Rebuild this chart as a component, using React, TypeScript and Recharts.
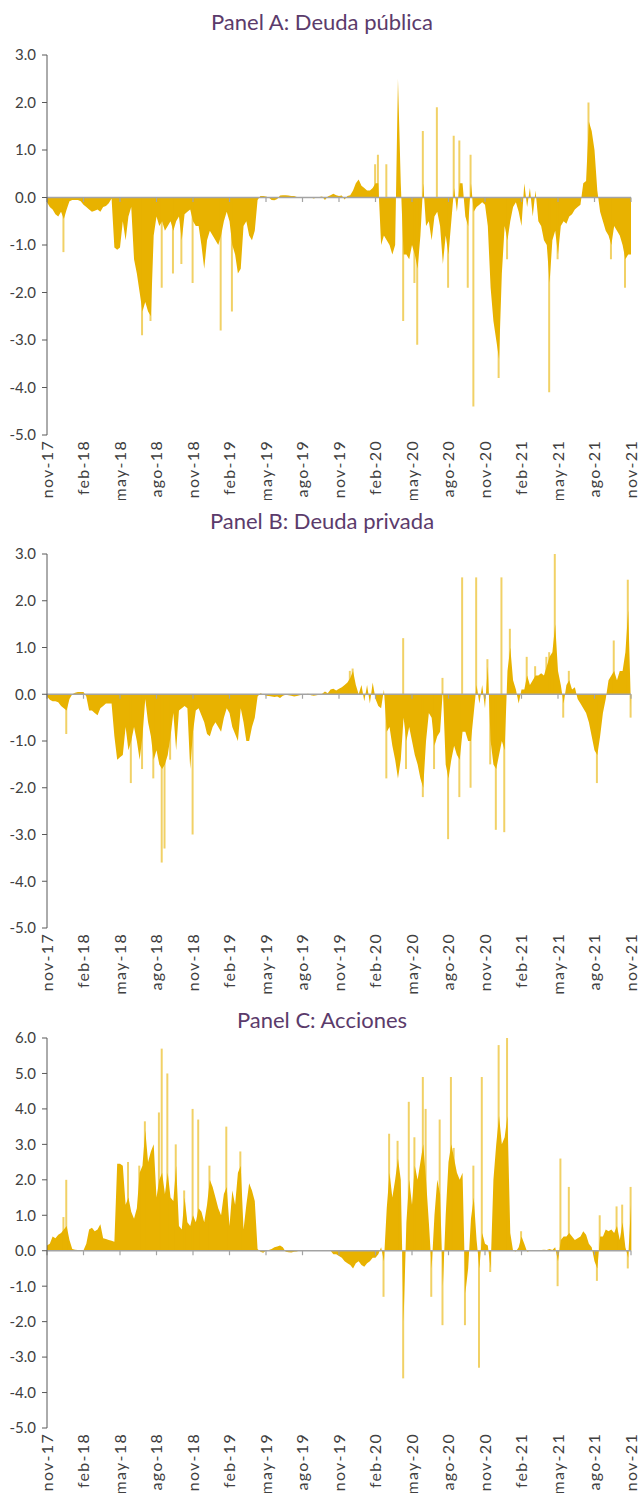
import React from 'react';
import { ComposedChart, Area, Bar, XAxis, YAxis, ReferenceLine } from 'recharts';

const tickLabels = [
  'nov-17', 'feb-18', 'may-18', 'ago-18', 'nov-18', 'feb-19', 'may-19', 'ago-19',
  'nov-19', 'feb-20', 'may-20', 'ago-20', 'nov-20', 'feb-21', 'may-21', 'ago-21', 'nov-21',
];
const WEEKS_PER_TICK = 13;

// Weekly body values, nov-17 .. nov-21 (209 weeks)
const deudaPublica = [
  -0.1, -0.2, -0.25, -0.35, -0.4, -0.3, -0.45, -0.25, -0.08, -0.05,
  -0.05, -0.05, -0.08, -0.15, -0.2, -0.25, -0.3, -0.28, -0.25, -0.3,
  -0.2, -0.18, -0.12, -0.02, -1.05, -1.1, -1.05, -0.5, -0.9, -0.4,
  -0.2, -1.3, -1.6, -2.0, -2.4, -2.2, -2.4, -2.5, -0.8, -0.4,
  -0.6, -0.5, -0.7, -0.6, -0.5, -0.7, -0.5, -0.4, -0.9, -0.35,
  -0.3, -0.25, -0.5, -0.6, -0.6, -1.0, -1.5, -0.9, -0.7, -0.8,
  -0.9, -1.0, -0.8, -0.5, -0.3, -0.5, -1.0, -1.2, -1.6, -1.5,
  -0.6, -0.5, -0.8, -0.9, -0.7, -0.05, 0.03, 0.03, 0.02, 0,
  -0.05, -0.06, -0.03, 0.04, 0.05, 0.05, 0.04, 0.03, 0.03, 0.01,
  0.01, 0, 0.01, 0.01, 0, -0.02, 0, 0.01, 0.02, -0.05,
  0.02, 0.05, 0.08, 0.05, 0.03, 0.04, -0.04, 0.03, 0.05, 0.15,
  0.3, 0.38, 0.25, 0.2, 0.15, 0.15, 0.2, 0.3, 0.3, -1.0,
  -0.8, -0.9, -1.0, -1.2, -1.0, 2.5, 0.3, -1.2, -1.2, -1.3,
  -1.0, -1.2, -1.5, -0.8, 0.3, -0.6, -0.5, -0.9, -0.4, -0.3,
  -0.6, -1.4, -0.8, -1.2, -0.5, 0.2, -0.3, 0.3, 0.3, -0.4,
  -0.6, 0.3, -0.3, -0.2, -0.15, -0.1, -0.15, -0.6, -1.9, -2.6,
  -3.0, -3.4, -1.6, -0.6, -0.9, -0.5, -0.2, -0.1, -0.3, -0.6,
  0.3, -0.2, 0.2, -0.4, 0.15, -0.5, -0.6, -0.9, -1.0, -1.8,
  -0.9, -0.7, -1.2, -0.6, -0.5, -0.55, -0.4, -0.35, -0.25, -0.2,
  -0.15, 0.3, 0.35, 1.6, 1.4, 1.0, 0.15, -0.3, -0.5, -0.7,
  -0.8, -1.0, -0.6, -0.7, -0.8, -1.0, -1.3, -1.2, -1.2,
];
// Thin one-day spikes: [week, value]
const deudaPublicaSpikes: [number, number][] = [
  [6, -1.15], [34, -2.9], [37, -2.6], [41, -1.9], [45, -1.6], [48, -1.4], [52, -1.8],
  [62, -2.8], [66, -2.4], [117, 0.7], [118, 0.9], [121, 0.7], [127, -2.6], [131, -1.8],
  [132, -3.1], [134, 1.4], [139, 1.9], [143, -1.9], [145, 1.3], [147, 1.2], [150, -1.9],
  [151, 0.9], [152, -4.4], [161, -3.8], [164, -1.3], [179, -4.1], [182, -1.3], [193, 2.0],
  [201, -1.3], [206, -1.9],
];

const deudaPrivada = [
  -0.05, -0.12, -0.15, -0.15, -0.17, -0.25, -0.3, -0.35, -0.1, 0,
  0.03, 0.05, 0.05, 0.05, -0.05, -0.35, -0.35, -0.4, -0.45, -0.3,
  -0.25, -0.2, -0.2, -0.2, -0.9, -1.4, -1.35, -1.3, -0.7, -1.2,
  -1.0, -0.7, -1.0, -1.4, -0.9, -0.1, -0.6, -0.9, -1.4, -1.2,
  -1.5, -1.6, -1.5, -1.3, -0.9, -0.4, -1.2, -0.35, -0.3, -0.25,
  -0.3, -1.6, -0.8, -0.35, -0.3, -0.45, -0.6, -0.85, -0.9, -0.7,
  -0.6, -0.7, -0.8, -0.5, -0.3, -0.4, -0.7, -0.85, -1.0, -0.3,
  -0.6, -1.0, -1.0, -0.7, -0.5, -0.05, 0.02, 0, -0.03, -0.04,
  -0.05, -0.06, -0.05, -0.08, -0.03, -0.01, -0.02, -0.03, -0.05, -0.04,
  -0.02, -0.01, 0, 0.01, -0.02, -0.03, -0.02, -0.01, 0.01, 0.06,
  0.02, 0.1, 0.12, 0.08, 0.12, 0.15, 0.2, 0.25, 0.35, 0.5,
  0.2, 0, 0.2, -0.15, 0.2, -0.2, 0.25, -0.1, -0.25, -0.3,
  0.1, -0.8, -0.7, -1.1, -1.4, -1.8, -1.4, -0.5, -1.0, -0.7,
  -1.0, -1.3, -1.5, -1.8, -2.0, -1.0, -0.4, -0.5, -1.1, -0.9,
  -0.8, 0.1, -1.5, -1.8, -1.4, -1.1, -1.3, -1.4, -0.8, -0.8,
  -1.0, -1.0, -0.4, 0.2, -0.2, 0.2, -0.3, 0.6, -1.0, -1.5,
  -1.6, -1.3, -1.0, -1.2, 0.5, 1.0, 0.3, 0.1, -0.2, 0.1,
  0.1, 0.4, 0.2, 0.3, 0.4, 0.4, 0.45, 0.4, 0.6, 0.8,
  0.9, 1.5, 0.5, 0.2, -0.2, 0.2, 0.3, 0.1, 0.15, -0.1,
  -0.2, -0.3, -0.4, -0.6, -0.9, -1.2, -1.3, -0.9, -0.4, -0.1,
  0.3, 0.4, 0.5, 0.3, 0.5, 0.5, 0.9, 1.8, -0.3,
];
const deudaPrivadaSpikes: [number, number][] = [
  [7, -0.85], [30, -1.9], [34, -1.6], [38, -1.8], [41, -3.6], [42, -3.3], [44, -1.4],
  [52, -3.0], [108, 0.5], [109, 0.55], [121, -1.8], [127, 1.2], [128, -1.6], [134, -2.2],
  [138, -1.6], [141, 0.35], [143, -3.1], [147, -2.2], [148, 2.5], [151, -2.0], [153, 2.5],
  [157, 0.75], [158, -1.5], [160, -2.9], [162, 2.5], [163, -2.95], [165, 1.4], [171, 0.8],
  [174, 0.6], [178, 0.8], [179, 0.9], [181, 3.0], [184, -0.5], [186, 0.5], [196, -1.9],
  [202, 1.15], [207, 2.45], [208, -0.5],
];

const acciones = [
  0.15, 0.2, 0.4, 0.35, 0.45, 0.5, 0.6, 0.7, 0.3, 0.05,
  0.03, 0.02, 0.01, 0.01, 0.2, 0.6, 0.65, 0.55, 0.6, 0.75,
  0.35, 0.33, 0.3, 0.28, 0.25, 2.45, 2.45, 2.4, 1.3, 1.5,
  1.1, 0.9, 1.2, 2.2, 2.4, 3.4, 2.5, 2.8, 3.0, 1.5,
  2.0, 2.2, 1.6, 2.2, 1.5, 1.4, 2.4, 0.7, 0.6, 1.5,
  0.8, 0.7, 1.0, 0.8, 1.2, 1.1, 0.8, 1.3, 2.0, 1.8,
  1.5, 1.2, 1.0, 1.6, 1.8, 0.7, 1.7, 1.3, 2.2, 2.4,
  0.6, 1.3, 1.9, 1.7, 1.4, 0.05, -0.03, -0.06, 0, 0.02,
  0.05, 0.1, 0.12, 0.15, 0.1, -0.03, -0.04, -0.05, -0.03, -0.02,
  0.01, 0.02, 0.02, 0.01, 0.02, 0.01, 0, 0.02, 0.01, 0,
  0, 0, -0.1, -0.1, -0.15, -0.2, -0.3, -0.35, -0.4, -0.5,
  -0.35, -0.3, -0.4, -0.45, -0.35, -0.3, -0.2, -0.2, -0.1, 0.1,
  -0.3, 1.2, 2.2, 1.5, 2.0, 2.6, 2.0, -2.0, 0.8, 2.0,
  1.3, 2.4, 2.0, 2.5, 3.0, 2.0, 0.8, -0.5, 1.0, 2.0,
  1.6, -1.0, 1.0, 2.5, 3.0, 2.6, 2.2, 2.0, 2.2, -1.2,
  -0.5, 0.9, 1.5, 0.3, -0.5, 0.5, 0.2, 0.15, -0.5, 2.0,
  3.0, 3.8, 3.0, 3.2, 3.8, 0.5, 0, -0.02, 0.1, 0.4,
  0.2, -0.03, 0, 0.02, 0.01, 0.02, 0.02, 0.03, 0.02, 0.05,
  0.02, 0.1, -0.3, 0.3, 0.4, 0.4, 0.5, 0.4, 0.3, 0.35,
  0.4, 0.55, 0.45, 0.2, 0.1, -0.3, -0.5, 0.4, 0.4, 0.6,
  0.55, 0.6, 0.5, 0.7, 0.3, 0.8, 0.1, -0.2, 1.3,
];
const accionesSpikes: [number, number][] = [
  [6, 0.95], [7, 2.0], [29, 2.5], [33, 2.4], [35, 3.65], [40, 3.9], [41, 5.7], [43, 5.0],
  [46, 3.0], [49, 1.7], [52, 4.0], [54, 3.7], [58, 2.4], [64, 3.5], [69, 2.8], [120, -1.3],
  [122, 3.3], [125, 3.1], [127, -3.6], [129, 4.2], [131, 3.2], [134, 4.9], [135, 4.0],
  [137, -1.3], [140, 3.7], [141, -2.1], [144, 4.9], [145, 2.9], [149, -2.1], [152, 2.4],
  [154, -3.3], [155, 4.9], [158, -0.6], [161, 5.8], [164, 6.0], [169, 0.55], [182, -1.0],
  [183, 2.6], [186, 1.8], [196, -0.85], [197, 1.0], [203, 1.25], [205, 1.3], [207, -0.5],
  [208, 1.8],
];

const yTicksDebt = [-5, -4, -3, -2, -1, 0, 1, 2, 3];
const yTicksEquity = [-5, -4, -3, -2, -1, 0, 1, 2, 3, 4, 5, 6];

const FILL = '#E8B200';
const AXIS_COLOR = '#595959';
const ZERO_COLOR = '#A3A3A3';
const TEXT_COLOR = '#404040';
const TITLE_COLOR = '#5B3B6B';
const FONT = 'Lato, "Noto Sans", "DejaVu Sans", sans-serif';
const WIDTH = 640;

const xTicks = tickLabels.map((_, i) => i * WEEKS_PER_TICK);

function XTick(props: any) {
  const { x, y, payload } = props;
  const label = tickLabels[Math.round(payload.value / WEEKS_PER_TICK)];
  return (
    <g transform={`translate(${x},${y})`}>
      <text
        transform="rotate(-90)"
        x={-5}
        y={0}
        dy="0.36em"
        textAnchor="end"
        fill={TEXT_COLOR}
        fontSize={16}
        fontFamily={FONT}
        style={{ letterSpacing: '1.3px' }}
      >
        {label}
      </text>
    </g>
  );
}

type PanelProps = {
  title: string;
  values: number[];
  spikes: [number, number][];
  yTicks: number[];
  top: number;
  height: number;
  marginTop: number;
  xAxisHeight: number;
  titleTop: number;
};

function Panel({ title, values, spikes, yTicks, top, height, marginTop, xAxisHeight, titleTop }: PanelProps) {
  const spikeMap = new Map<number, number>(spikes);
  const rows = values.map((v, i) => ({ w: i, v, s: spikeMap.has(i) ? spikeMap.get(i)! : null }));
  const yMin = yTicks[0];
  const yMax = yTicks[yTicks.length - 1];
  const plotH = height - marginTop - xAxisHeight;
  const tickLen = 4.5 * (yMax - yMin) / plotH;
  return (
    <div style={{ position: 'absolute', left: 0, top, width: WIDTH, height }}>
      <div
        style={{
          position: 'absolute',
          left: 0,
          top: titleTop,
          width: 644,
          textAlign: 'center',
          fontFamily: FONT,
          fontSize: 22,
          lineHeight: '26px',
          color: TITLE_COLOR,
        }}
      >
        {title}
      </div>
      <ComposedChart
        width={WIDTH}
        height={height}
        data={rows}
        margin={{ top: marginTop, right: 9, bottom: 0, left: 0 }}
      >
        <XAxis
          dataKey="w"
          type="number"
          domain={[0, values.length - 1]}
          ticks={xTicks}
          interval={0}
          axisLine={false}
          tickLine={false}
          tickSize={0}
          tickMargin={0}
          height={xAxisHeight}
          tick={<XTick />}
        />
        <YAxis
          width={47}
          domain={[yMin, yMax]}
          ticks={yTicks}
          interval={0}
          allowDataOverflow
          axisLine={{ stroke: AXIS_COLOR, strokeWidth: 1 }}
          tickLine={{ stroke: AXIS_COLOR, strokeWidth: 1 }}
          tickSize={5}
          tickMargin={6}
          tickFormatter={(v: number) => v.toFixed(1)}
          tick={{ fill: TEXT_COLOR, fontSize: 15, fontFamily: FONT }}
        />
        <Area
          type="linear"
          dataKey="v"
          baseValue={0}
          stroke="none"
          fill={FILL}
          fillOpacity={1}
          isAnimationActive={false}
          dot={false}
          activeDot={false}
        />
        <Bar
          dataKey="s"
          barSize={2}
          fill={FILL}
          fillOpacity={0.6}
          isAnimationActive={false}
        />
        <ReferenceLine y={0} stroke={ZERO_COLOR} strokeWidth={1.4} />
        {xTicks.map((t) => (
          <ReferenceLine
            key={t}
            segment={[{ x: t, y: 0 }, { x: t, y: -tickLen }]}
            stroke={ZERO_COLOR}
            strokeWidth={1.2}
          />
        ))}
      </ComposedChart>
    </div>
  );
}

export default function App() {
  return (
    <div style={{ position: 'relative', width: WIDTH, height: 1493, background: '#fff' }}>
      <style>{`body{margin:0;background:#fff;}`}</style>
      <Panel
        title="Panel A: Deuda pública"
        values={deudaPublica}
        spikes={deudaPublicaSpikes}
        yTicks={yTicksDebt}
        top={0}
        height={500}
        marginTop={55}
        xAxisHeight={65}
        titleTop={9}
      />
      <Panel
        title="Panel B: Deuda privada"
        values={deudaPrivada}
        spikes={deudaPrivadaSpikes}
        yTicks={yTicksDebt}
        top={500}
        height={500}
        marginTop={54}
        xAxisHeight={72}
        titleTop={8}
      />
      <Panel
        title="Panel C: Acciones"
        values={acciones}
        spikes={accionesSpikes}
        yTicks={yTicksEquity}
        top={1000}
        height={493}
        marginTop={38}
        xAxisHeight={65}
        titleTop={7}
      />
    </div>
  );
}
